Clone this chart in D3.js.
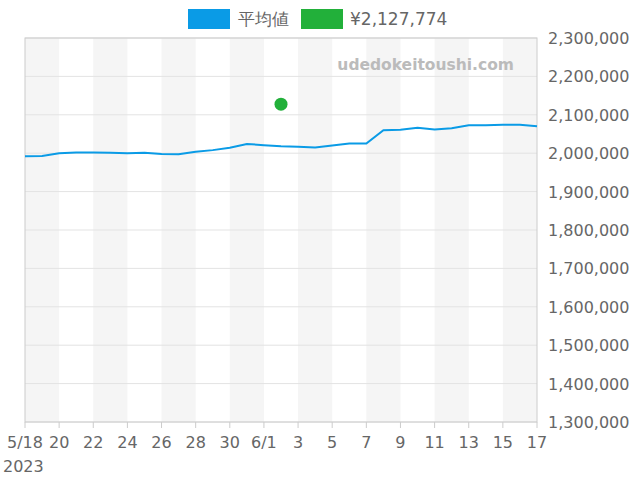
<!DOCTYPE html><html><head><meta charset="utf-8"><script src="https://cdn.jsdelivr.net/npm/d3@7"></script>
<style>body{margin:0;background:#fff}text{font-family:"DejaVu Sans",sans-serif}</style></head><body><svg id="c" width="640" height="480"></svg>
<script>
const startDate="2023-05-18";
const avgValues=[1992000,1993000,2000000,2002000,2002000,2001000,2000000,2001000,1998000,1997000,2004000,2008000,2014000,2024000,2021000,2018000,2017000,2015000,2020000,2025000,2025000,2060000,2061000,2066000,2062000,2065000,2073000,2073000,2074000,2074000,2070000];
const pointDate="2023-06-02", pointValue=2127774;
const yTicks=[1300000,1400000,1500000,1600000,1700000,1800000,1900000,2000000,2100000,2200000,2300000];
const xTickLabels=["5/18","20","22","24","26","28","30","6/1","3","5","7","9","11","13","15","17"];
const legendLabels=["平均値","¥2,127,774"];
const p=d3.timeParse("%Y-%m-%d");
const d0=p(startDate);
const dates=avgValues.map((v,i)=>d3.timeDay.offset(d0,i));
const svg=d3.select("#c");
const L=25,R=537,T=38,B=422;
const x=d3.scaleTime().domain([d0,dates[dates.length-1]]).range([L,R]);
const y=d3.scaleLinear().domain([1300000,2300000]).range([B,T]);
for(let i=0;i<30;i+=4){svg.append("rect").attr("x",x(dates[i])).attr("y",T).attr("width",x(dates[i+2])-x(dates[i])).attr("height",B-T).attr("fill","#f5f5f5");}
yTicks.forEach(t=>{svg.append("line").attr("x1",L).attr("x2",R).attr("y1",y(t)).attr("y2",y(t)).attr("stroke","#e3e3e3");
svg.append("text").attr("x",548).attr("y",y(t)+6).attr("font-size",16).attr("fill","#666").text(d3.format(",")(t));});
svg.append("rect").attr("x",L).attr("y",T).attr("width",R-L).attr("height",B-T).attr("fill","none").attr("stroke","#ccc");
xTickLabels.forEach((l,i)=>{const d=dates[i*2];svg.append("line").attr("x1",x(d)).attr("x2",x(d)).attr("y1",B).attr("y2",B+6).attr("stroke","#ccc");
svg.append("text").attr("x",x(d)).attr("y",448).attr("text-anchor","middle").attr("font-size",16).attr("fill","#666").text(l);});
svg.append("text").attr("x",3).attr("y",472).attr("font-size",16).attr("fill","#666").text("2023");
svg.append("text").attr("x",514).attr("y",70).attr("text-anchor","end").attr("font-size",15.5).attr("font-weight","bold").attr("fill","#bbb").text("udedokeitoushi.com");
svg.append("path").datum(avgValues).attr("fill","none").attr("stroke","#0a9be6").attr("stroke-width",2)
 .attr("d",d3.line().x((v,i)=>x(dates[i])).y(v=>y(v)));
svg.append("circle").attr("cx",x(p(pointDate))).attr("cy",y(pointValue)).attr("r",6.5).attr("fill","#22b03a");
svg.append("rect").attr("x",188).attr("y",9).attr("width",42).attr("height",20).attr("fill","#0a9be6");
svg.append("text").attr("x",238).attr("y",25).attr("font-size",17).attr("fill","#666").text(legendLabels[0]);
svg.append("rect").attr("x",301).attr("y",9).attr("width",42).attr("height",20).attr("fill","#22b03a");
svg.append("text").attr("x",350).attr("y",25).attr("font-size",17).attr("fill","#666").text(legendLabels[1]);
</script></body></html>
